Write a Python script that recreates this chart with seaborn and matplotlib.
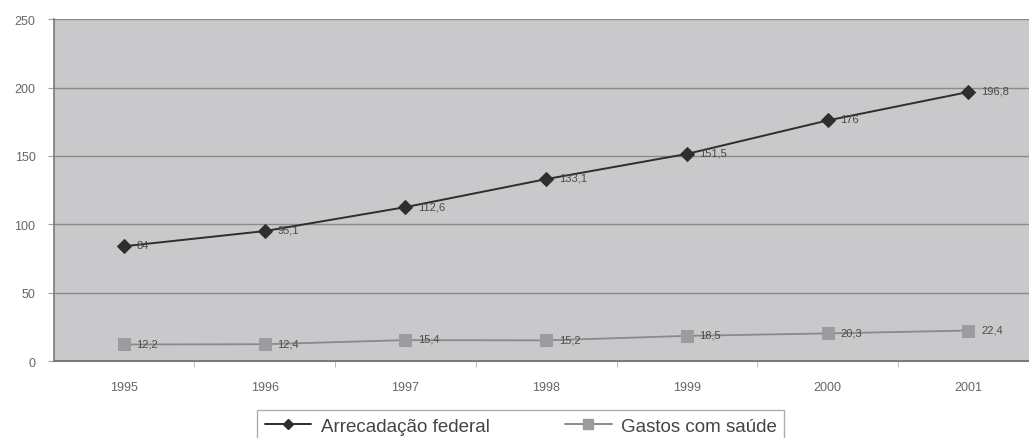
import matplotlib
matplotlib.use("Agg")
import matplotlib.pyplot as plt
from matplotlib.lines import Line2D
from matplotlib.ticker import FixedLocator
import pandas as pd
import seaborn as sns

years = [1995, 1996, 1997, 1998, 1999, 2000, 2001]
arrecadacao = [84, 95.1, 112.6, 133.1, 151.5, 176, 196.8]
gastos = [12.2, 12.4, 15.4, 15.2, 18.5, 20.3, 22.4]
series_names = ["Arrecadação federal", "Gastos com saúde"]
y_ticks = [0, 50, 100, 150, 200, 250]


def fmt(v):
    s = f"{v:.1f}".rstrip("0").rstrip(".")
    return s.replace(".", ",")


df = pd.DataFrame({
    "ano": years * 2,
    "valor": arrecadacao + gastos,
    "serie": [series_names[0]] * len(years) + [series_names[1]] * len(years),
})

sns.set_theme(style="white")
plt.rcParams["font.family"] = ["Liberation Sans", "DejaVu Sans"]

fig = plt.figure(figsize=(10.29, 4.39), dpi=100)
ax = fig.add_axes([0.052, 0.175, 0.948, 0.779])
ax.set_facecolor("#c9c9cb")

line_colors = {series_names[0]: "#2e2e2e", series_names[1]: "#8a8a8c"}
line_widths = {series_names[0]: 1.4, series_names[1]: 1.3}
marker_map = {series_names[0]: "D", series_names[1]: "s"}
marker_face = {series_names[0]: "#2e2e2e", series_names[1]: "#9c9c9e"}
marker_size = {series_names[0]: 7, series_names[1]: 8.5}

for name in series_names:
    sub = df[df["serie"] == name]
    sns.lineplot(data=sub, x="ano", y="valor", ax=ax, color=line_colors[name],
                 linewidth=line_widths[name],
                 marker=marker_map[name], markersize=marker_size[name],
                 markerfacecolor=marker_face[name], markeredgecolor=marker_face[name],
                 legend=False, zorder=3)
    for x, v in zip(sub["ano"], sub["valor"]):
        ax.annotate(fmt(v), (x, v), xytext=(9, 0.8), textcoords="offset points",
                    ha="left", va="center", fontsize=8, color="#4a4a4a", zorder=4)

ax.set_xlim(1994.5, 2001.43)
ax.set_ylim(0, 250)
ax.set_yticks(y_ticks)
ax.set_yticklabels([str(t) for t in y_ticks])
ax.set_xticks(years)
ax.set_xticklabels([str(y) for y in years])
ax.xaxis.set_minor_locator(FixedLocator([y + 0.5 for y in years[:-1]]))
ax.set_xlabel("")
ax.set_ylabel("")

ax.grid(axis="y", color="#8a8a8a", linewidth=1.0, zorder=0)
ax.grid(axis="x", visible=False)
ax.set_axisbelow(True)

for side in ["top", "right"]:
    ax.spines[side].set_visible(False)
ax.spines["left"].set_color("#7a7a7a")
ax.spines["bottom"].set_color("#7a7a7a")
ax.spines["left"].set_linewidth(1.2)
ax.spines["bottom"].set_linewidth(1.5)

ax.tick_params(axis="y", which="major", left=True, length=4, width=0.8,
               color="#a0a0a0", labelsize=9, labelcolor="#666666", pad=9)
ax.tick_params(axis="x", which="major", bottom=False, labelsize=9,
               labelcolor="#666666", pad=8)
ax.tick_params(axis="x", which="minor", bottom=True, length=4, width=0.6,
               color="#b0b0b0")

handles = [
    Line2D([0], [0], color=line_colors[n], marker=marker_map[n],
           markerfacecolor=marker_face[n], markeredgecolor=marker_face[n],
           markersize=marker_size[n] - 2, linewidth=1.4)
    for n in series_names
]
leg = fig.legend(handles, series_names, loc="upper left",
                 bbox_to_anchor=(0.2498, 0.063), borderaxespad=0, ncol=2,
                 frameon=True, fontsize=13.5, handlelength=2.5,
                 handletextpad=0.5, columnspacing=4.0, borderpad=0.4,
                 fancybox=False, labelcolor="#444444")
leg.get_frame().set_edgecolor("#9a9a9a")
leg.get_frame().set_linewidth(1.0)

fig.savefig("out.png", dpi=100)
